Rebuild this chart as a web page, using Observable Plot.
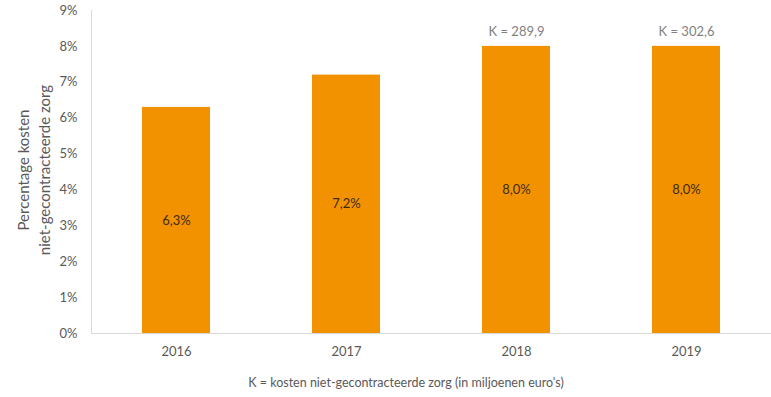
<!DOCTYPE html>
<html>
<head>
<meta charset="utf-8">
<script src="https://cdn.jsdelivr.net/npm/d3@7"></script>
<script src="https://cdn.jsdelivr.net/npm/@observablehq/plot@0.6"></script>
<style>
  body { margin: 0; background: #fff; font-family: Lato, "Open Sans", sans-serif; }
  #caption { width: 771px; box-sizing: border-box; padding-left: 41px; text-align: center;
             font-size: 12.5px; color: #595959; height: 27px; line-height: 26px; }
</style>
</head>
<body>
<div id="chart"></div>
<div id="caption">K = kosten niet-gecontracteerde zorg (in miljoenen euro's)</div>
<script>
const years = ["2016", "2017", "2018", "2019"];
const percentages = [6.3, 7.2, 8.0, 8.0];
const kLabels = [null, null, "K = 289,9", "K = 302,6"];
const yTicks = [0, 1, 2, 3, 4, 5, 6, 7, 8, 9];
const yTitle = "Percentage kosten\nniet-gecontracteerde zorg";

const data = years.map((y, i) => ({year: y, pct: percentages[i], k: kLabels[i]}));

const chart = Plot.plot({
  width: 771,
  height: 370,
  marginLeft: 91,
  marginRight: 0,
  marginTop: 10,
  marginBottom: 37,
  style: {fontFamily: "Lato, 'Open Sans', sans-serif", fontSize: "13px", color: "#595959", background: "#fff"},
  x: {domain: years, paddingInner: 0.6, paddingOuter: 0.3, label: null},
  y: {domain: [0, 9], label: null},
  marks: [
    Plot.barY(data, {x: "year", y: "pct", fill: "#f39200"}),
    Plot.frame({anchor: "left", stroke: "#d9d9d9"}),
    Plot.frame({anchor: "bottom", stroke: "#d9d9d9"}),
    Plot.axisY({ticks: yTicks, tickSize: 0, tickPadding: 14, tickFormat: d => d + "%", label: null, fill: "#595959", fontSize: 13}),
    Plot.axisX({tickSize: 0, tickPadding: 13, label: null, fill: "#595959", fontSize: 13}),
    Plot.text(data, {x: "year", y: d => d.pct / 2, text: d => d.pct.toFixed(1).replace(".", ",") + "%", fill: "#3d2a10", fontSize: 13}),
    Plot.text(data.filter(d => d.k), {x: "year", y: "pct", text: "k", dy: -15, fill: "#7f7f7f", fontSize: 13}),
    Plot.text([yTitle], {frameAnchor: "left", rotate: -90, textAnchor: "middle", dx: -59, dy: -2, text: d => d, fill: "#595959", fontSize: 15, lineHeight: 1.4})
  ]
});
document.getElementById("chart").appendChild(chart);
</script>
</body>
</html>
